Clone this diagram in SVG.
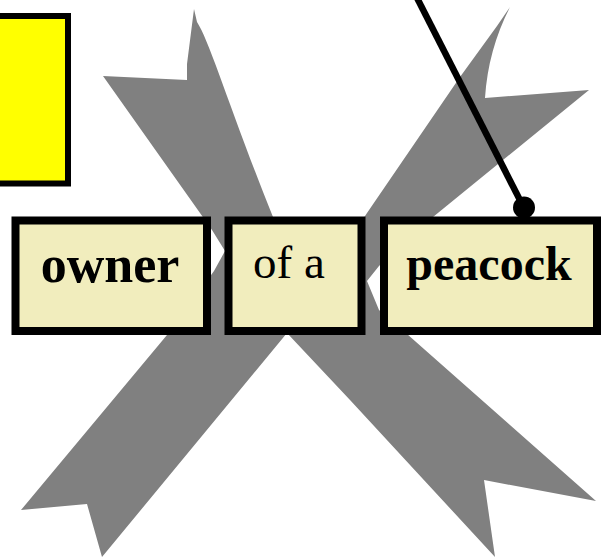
<svg xmlns="http://www.w3.org/2000/svg" width="606" height="557" viewBox="0 0 606 557">
  <style>
    .word { fill: #F1EDBD; stroke: #000; stroke-width: 8; }
    .label { font-family: "Liberation Serif", "Times New Roman", serif; fill: #000; }
    .bold { font-weight: bold; }
    .link { stroke: #000; stroke-width: 6.5; fill: none; }
  </style>
  <rect width="606" height="557" fill="#fff"/>

  <!-- yellow note, cut by the left edge -->
  <g id="note">
    <rect x="-10" y="16" width="78" height="167.5" fill="#FFFF00" stroke="#000" stroke-width="6"/>
  </g>

  <!-- large grey cross behind the words -->
  <g id="cross">
    <path fill="#808080" d="M103,76 L187,80 L187,64 L194,9 L197,22 C210,42 230,110 273,217 L315,292 L367,213 L460,77 L497,26 L510,7 Q488,50 485,98 L589,90 L433,217 L379,266 L367,281 L379,310 L407,334 L596,501 L484,480 L495,557 L350,400 L287,333 L102,557 L87,504 L21,510 L167,335 L214,271 L225,251 L212,230 L200,213 Z"/>
  </g>

  <g id="node-owner">
    <rect class="word" x="15.5" y="220.5" width="191.5" height="110.5"/>
    <text class="label bold" x="110" y="282" font-size="52" text-anchor="middle">owner</text>
  </g>

  <g id="node-ofa">
    <rect class="word" x="228.5" y="220.5" width="133" height="110.5"/>
    <text class="label" x="253" y="278" font-size="47">of a</text>
  </g>

  <g id="node-peacock">
    <rect class="word" x="384" y="220.5" width="213" height="110.5"/>
    <text class="label bold" x="489" y="280" font-size="48" text-anchor="middle">peacock</text>
  </g>

  <g id="connectors">
    <line class="link" x1="413" y1="-10" x2="524" y2="208"/>
    <circle cx="524" cy="207.5" r="11" fill="#000"/>
  </g>
</svg>
